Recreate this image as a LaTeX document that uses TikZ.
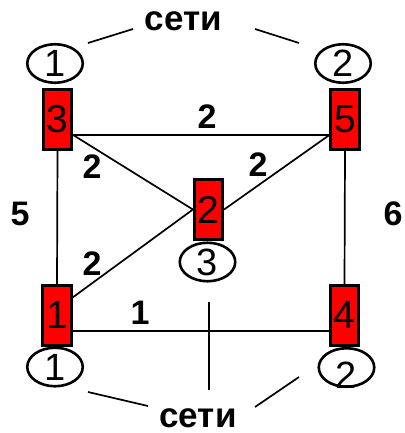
\documentclass[tikz,border=0pt]{standalone}
\usepackage{fontspec}
\setmainfont{Liberation Sans}
\usetikzlibrary{shapes.geometric}
\definecolor{boxred}{RGB}{255,0,0}
\tikzset{
  router/.style={draw=black, line width=2.7pt, fill=boxred, minimum width=28.5pt, minimum height=60.5pt, inner sep=0pt, font=\fontsize{39}{39}\selectfont},
  net/.style={draw=black, line width=2.6pt, ellipse, fill=white, minimum width=55.5pt, minimum height=38.5pt, inner sep=0pt, font=\fontsize{38}{38}\selectfont},
  wlabel/.style={inner sep=0pt, font=\fontsize{34}{34}\selectfont\bfseries},
  title/.style={inner sep=0pt, font=\fontsize{35}{35}\selectfont\bfseries},
  link/.style={line width=1.7pt, black},
}
\begin{document}
\begin{tikzpicture}[x=1pt, y=-1pt]
\useasboundingbox (0,0) rectangle (404,433);
% routers (placed first so that links can refer to them)
\node[router] (b3) at (57.5,119.5) {3};
\node[router] (b5) at (345,119.5) {5};
\node[router] (b2) at (208.5,209.5) {2};
\node[router] (b1) at (57,315.5) {1};
\node[router] (b4) at (344.5,315.5) {4};
% links
\draw[link] ([yshift=-15.5pt]b3.east) -- ([yshift=-15.5pt]b5.west);
\draw[link] ([yshift=-15.5pt]b3.east) -- (b2.west);
\draw[link] (b2.east) -- ([yshift=-15.5pt]b5.west);
\draw[link] ([yshift=18pt]b1.east) -- (b2.west);
\draw[link] ([yshift=-15.5pt]b1.east) -- ([yshift=-15.5pt]b4.west);
\draw[link] (b3.south) -- (b1.north);
\draw[link] (b5.south) -- (b4.north);
% redraw routers on top of links
\node[router] at (b3) {3};
\node[router] at (b5) {5};
\node[router] at (b2) {2};
\node[router] at (b1) {1};
\node[router] at (b4) {4};
% networks
\node[net] (e1t) at (55,63.5) {1};
\node[net] (e2t) at (343,63.5) {2};
\node[net] (e3) at (207.5,262) {3};
\node[net] (e1b) at (55,367) {1};
\node[net] (e2b) at (346.5,367.5) {};
\node[inner sep=0pt, font=\fontsize{38}{38}\selectfont] (e2btext) at (346.5,375.5) {2};
% weights
\node[wlabel] (w35) at (207,117) {2};
\node[wlabel] (w32) at (92,167) {2};
\node[wlabel] (w25) at (258,165) {2};
\node[wlabel] (w12) at (92,264) {2};
\node[wlabel] (w31) at (20,214) {5};
\node[wlabel] (w54) at (393,214) {6};
\node[wlabel] (w14) at (140,313) {1};
% titles
\node[title] (st) at (183.5,21.5) {сети};
\node[title] (sb) at (198,418) {сети};
\coordinate (t1a) at (88,43);
\coordinate (t1b) at (133,29);
\coordinate (t2a) at (255,29);
\coordinate (t2b) at (299,43);
\coordinate (b1a) at (88,392);
\coordinate (b1b) at (148,406);
\coordinate (b2a) at (255,407);
\coordinate (b2b) at (299,377);
\coordinate (v3a) at (209,302);
\coordinate (v3b) at (209,390);
\draw[link] (t1a) -- (t1b);
\draw[link] (t2a) -- (t2b);
\draw[link] (b1a) -- (b1b);
\draw[link] (b2a) -- (b2b);
\draw[link] (v3a) -- (v3b);
\end{tikzpicture}
\end{document}
